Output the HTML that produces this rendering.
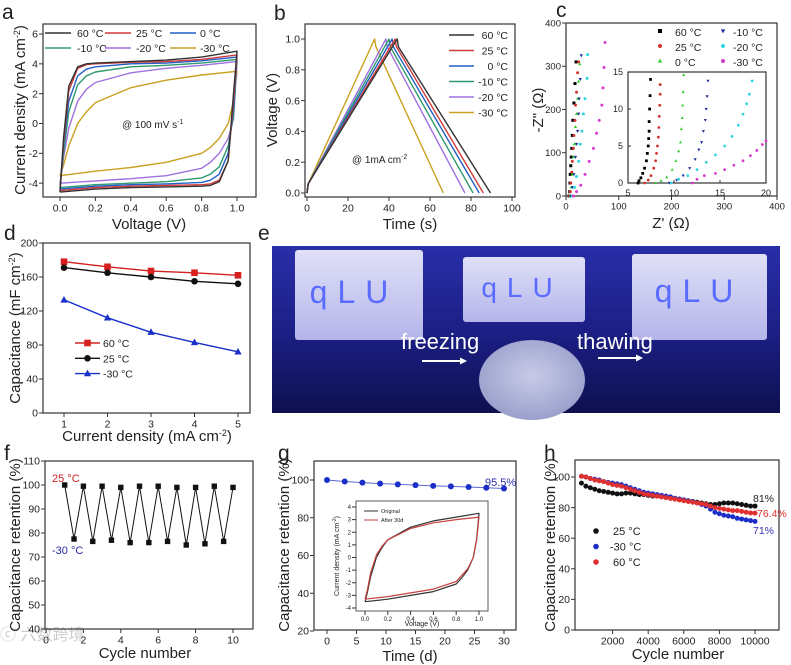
<!DOCTYPE html>
<html><head><meta charset="utf-8"><style>
html,body{margin:0;padding:0;background:#fff;}
svg{display:block;font-family:"Liberation Sans","Noto Sans CJK SC",sans-serif;}
</style></head><body>
<svg id="fig" width="791" height="665" viewBox="0 0 791 665" xmlns="http://www.w3.org/2000/svg">
<defs>
<linearGradient id="photoBg" x1="0" y1="0" x2="0" y2="1"><stop offset="0" stop-color="#2a2ea8"/><stop offset="0.5" stop-color="#1c1f86"/><stop offset="1" stop-color="#0e1050"/></linearGradient>
<linearGradient id="bag" x1="0" y1="0" x2="0" y2="1"><stop offset="0" stop-color="#e0e0f8"/><stop offset="1" stop-color="#b4b5ea"/></linearGradient>
<radialGradient id="ice" cx="0.5" cy="0.45" r="0.55"><stop offset="0" stop-color="#c8cbe8"/><stop offset="1" stop-color="#9aa0cc"/></radialGradient>
</defs>
<g>
<rect x="272" y="246" width="508" height="167" fill="url(#photoBg)"/>
<rect x="295" y="250" width="128" height="90" rx="3" fill="url(#bag)"/>
<rect x="463" y="257" width="122" height="65" rx="3" fill="url(#bag)"/>
<rect x="632" y="254" width="135" height="86" rx="3" fill="url(#bag)"/>
<ellipse cx="532" cy="380" rx="53" ry="40" fill="url(#ice)"/>
<text x="354" y="303" text-anchor="middle" fill="#5a6cff" font-size="32" letter-spacing="10">qLU</text>
<text x="522" y="297" text-anchor="middle" fill="#5a6cff" font-size="28" letter-spacing="10">qLU</text>
<text x="699" y="302" text-anchor="middle" fill="#5a6cff" font-size="32" letter-spacing="10">qLU</text>
<text x="401" y="349" fill="#fff" font-size="22">freezing</text>
<text x="577" y="349" fill="#fff" font-size="22">thawing</text>
<line x1="422" y1="361" x2="463" y2="361" stroke="#fff" stroke-width="2"/>
<polygon points="467,361 460,357.5 460,364.5" fill="#fff"/>
<line x1="598" y1="358" x2="639" y2="358" stroke="#fff" stroke-width="2"/>
<polygon points="643,358 636,354.5 636,361.5" fill="#fff"/>
</g>
<text x="0" y="640" fill="#ccc" font-size="16">ⓒ 六数跨境</text>
</svg>
<script>
// ---------- DATA ----------
const cvUpV = [0,0.02,0.05,0.1,0.15,0.2,0.4,0.6,0.8,1.0];
const cvLowV = [1.0,0.98,0.95,0.9,0.85,0.8,0.6,0.4,0.2,0];
const cvLabels = ["60 °C","25 °C","0 °C","-10 °C","-20 °C","-30 °C"];
const cvUp60 = [-4.6,-1,2.5,3.8,4.0,4.05,4.15,4.25,4.45,4.85];
const cvLow60 = [4.85,2,-2.5,-3.9,-4.15,-4.2,-4.25,-4.3,-4.4,-4.6];
const cvUp25 = [-4.5,-1.3,2.2,3.7,3.95,4.0,4.1,4.15,4.3,4.6];
const cvLow25 = [4.6,1.5,-2.5,-3.8,-4.05,-4.1,-4.15,-4.2,-4.3,-4.5];
const cvUp0 = [-4.4,-1.5,1.5,3.2,3.65,3.8,4.0,4.05,4.2,4.45];
const cvLow0 = [4.45,1,-2,-3.4,-3.8,-3.95,-4.05,-4.1,-4.2,-4.4];
const cvUpM10 = [-4.3,-2,0.8,2.6,3.2,3.45,3.8,3.9,4.05,4.3];
const cvLowM10 = [4.3,0.5,-1.5,-2.9,-3.4,-3.65,-3.9,-4.0,-4.1,-4.3];
const cvUpM20 = [-4.0,-2.3,-0.3,1.5,2.3,2.75,3.4,3.7,3.9,4.15];
const cvLowM20 = [4.15,0.3,-1,-2,-2.6,-3.0,-3.5,-3.7,-3.85,-4.0];
const cvUpM30 = [-3.5,-2.8,-1.5,0,0.8,1.4,2.4,2.9,3.25,3.5];
const cvLowM30 = [3.5,1.5,0,-1,-1.6,-2.0,-2.6,-2.95,-3.2,-3.5];
const gcdLabels = ["60 °C","25 °C","0 °C","-10 °C","-20 °C","-30 °C"];
const gcdPeak = [44,43,41.5,40,38.5,33];
const gcdEnd = [89.5,86,84,81,77,66.5];
const nyLabels = ["60 °C","25 °C","0 °C","-10 °C","-20 °C","-30 °C"];
const ny60 = [[6,0],[7,10],[7.5,30],[8,50],[9,70],[10,90],[11,110],[12,140],[13,175],[15,215],[17,260],[19,310]];
const ny25 = [[7,0],[8,10],[9,30],[11,55],[12,80],[14,110],[15,140],[17,175],[18,210],[20,240],[22,285],[24,310]];
const ny0 = [[8,0],[10,20],[12,50],[14,90],[16,120],[18,160],[20,190],[22,225],[24,265],[26,305]];
const nyM10 = [[9,0],[12,20],[15,50],[18,90],[20,120],[22,150],[24,190],[25,225],[27,270],[29,325]];
const nyM20 = [[12,0],[16,20],[20,45],[24,80],[27,120],[30,150],[33,190],[36,225],[40,272],[41,327]];
const nyM30 = [[14,0],[20,10],[28,25],[36,50],[44,80],[52,110],[58,145],[63,175],[68,210],[70,250],[72,297],[74,355]];
const in60 = [[6.1,0],[6.2,0.3],[6.4,0.7],[6.6,1.3],[6.8,2],[7.0,3],[7.1,4],[7.2,5],[7.25,6],[7.3,7],[7.3,8.3],[7.35,10],[7.4,11.8],[7.45,14]];
const in25 = [[6.8,0],[7.2,0.4],[7.5,1],[7.8,2],[8.0,3],[8.1,4],[8.2,5],[8.3,6.2],[8.35,7.5],[8.4,9],[8.45,10.5],[8.5,12],[8.5,13.3]];
const in0 = [[8.0,0],[8.6,0.3],[9.2,0.8],[9.8,1.8],[10.2,3],[10.5,4.3],[10.7,5.5],[10.8,7.3],[10.9,8.8],[10.95,10.5],[11,12.3],[11.05,14.6]];
const inM10 = [[9.5,0],[10.3,0.4],[11,1],[11.7,2],[12.3,3.2],[12.7,4.5],[13.0,5.5],[13.2,7],[13.4,8.5],[13.5,10],[13.6,11.7],[13.7,13.8]];
const inM20 = [[9.7,0],[10.5,0.5],[11.5,1],[12.5,1.8],[13.5,2.8],[14.5,3.8],[15.5,5],[16.3,6.3],[17,7.8],[17.5,9.3],[17.9,10.7],[18.2,12],[18.5,13.8]];
const inM30 = [[12,0],[12.5,0.5],[13.3,1],[14.5,1.3],[15.5,1.8],[16.5,2.4],[17.5,3],[18.3,3.7],[19,4.4],[19.6,5.2],[20,5.7]];
const rateX = [1,2,3,4,5];
const rate60 = [178,172,167,165,162];
const rate25 = [171,165,160,155,152];
const rateM30 = [133,112,95,83,72];
const cycX = [1,1.5,2,2.5,3,3.5,4,4.5,5,5.5,6,6.5,7,7.5,8,8.5,9,9.5,10];
const cycY = [100,77.5,99.5,76.5,99.5,77,99,76,99.5,76,99.5,76.5,99,75,99,75.5,99.5,76.5,99];
const storeX = [0,3,6,9,12,15,18,21,24,27,30];
const storeY = [100,99.2,98.6,98.1,97.7,97.3,96.9,96.6,96.3,95.9,95.5];
const gInUpOrig = [-3.5,-2.8,-1.5,0,0.8,1.4,2.4,2.9,3.2,3.5];
const gInLowOrig = [3.5,1.5,0,-1,-1.6,-2.1,-2.7,-3.0,-3.3,-3.5];
const gInUp30 = [-3.3,-2.6,-1.2,0.2,0.9,1.4,2.3,2.75,3.0,3.2];
const gInLow30 = [3.2,1.4,0,-0.9,-1.4,-1.9,-2.5,-2.8,-3.1,-3.3];
const longX = [250,500,750,1000,1250,1500,1750,2000,2250,2500,2750,3000,3250,3500,3750,4000,4250,4500,4750,5000,5250,5500,5750,6000,6250,6500,6750,7000,7250,7500,7750,8000,8250,8500,8750,9000,9250,9500,9750,10000];
const long25 = [96,94,93,92,91,90.5,90,89.5,89,89,89.5,89.5,89,88.5,88.5,88,87.5,87.5,87,87,86.5,86,85.5,85,84.5,84,83.5,83,82.5,82,82,82.5,83,83,83,82.5,82,81.5,81,81];
const longM30 = [100.5,100,99,98.5,98,97,96.5,96,95.5,95,94,93,92,91,90,89.5,89,88.5,88,87.5,87,86,85.5,85,84.5,84,83,82,81,79,77,76,75,74.5,74,73,72.5,72,71.5,71];
const long60 = [100.5,100,99,98,97.5,97,96,95,94.5,94,93,92,91,90,89,88.5,88,87.5,87,86.5,86,85.5,85,84.5,84,83.5,83,82.5,82,81,80,79.5,79,78.5,78,78,77.5,77,76.5,76.4];

// ---------- HELPERS ----------
const NS = "http://www.w3.org/2000/svg";
const svg = document.getElementById('fig');
function el(tag, attrs, name, parent) {
  const e = document.createElementNS(NS, tag);
  for (const k in attrs) e.setAttribute(k, attrs[k]);
  
  
  (parent || svg).appendChild(e);
  return e;
}
function txt(x, y, s, size, name, opts) {
  opts = opts || {};
  const t = el('text', {x: x, y: y, 'font-size': size, fill: opts.fill || '#222', 'text-anchor': opts.anchor || 'start'}, name);
  if (opts.rot) t.setAttribute('transform', 'rotate(-90 ' + x + ' ' + y + ')');
  t.innerHTML = s;
  return t;
}
function lin(d0, d1, p0, p1) { return v => p0 + (v - d0) * (p1 - p0) / (d1 - d0); }
function axes(o) {
  const sx = lin(o.xd[0], o.xd[1], o.xp[0], o.xp[1]);
  const sy = lin(o.yd[0], o.yd[1], o.yp[0], o.yp[1]);
  const fs = o.fs || 10.5;
  el('rect', {x: o.box[0], y: o.box[1], width: o.box[2] - o.box[0], height: o.box[3] - o.box[1], fill: 'none', stroke: '#333', 'stroke-width': o.sw || 1.2}, o.name + '-frame');
  o.xt.forEach((v, i) => {
    const x = sx(v);
    el('line', {x1: x, x2: x, y1: o.box[3], y2: o.box[3] + (o.tin ? -3 : 4), stroke: '#333'}, o.name + '-x-tick');
    if (o.xl[i] !== '') txt(x, o.box[3] + fs + 4, o.xl[i], fs, o.name + '-x-tick-label', {anchor: 'middle'});
  });
  o.yt.forEach((v, i) => {
    const y = sy(v);
    el('line', {x1: o.box[0], x2: o.box[0] + (o.tin ? 3 : -4), y1: y, y2: y, stroke: '#333'}, o.name + '-y-tick');
    txt(o.box[0] - 5, y + fs * 0.35, o.yl[i], fs, o.name + '-y-tick-label', {anchor: 'end'});
  });
  return {sx, sy};
}
function poly(pts, color, name, w) {
  return el('polyline', {points: pts.map(p => p[0].toFixed(1) + ',' + p[1].toFixed(1)).join(' '), fill: 'none', stroke: color, 'stroke-width': w || 1.4, 'stroke-linejoin': 'round'}, name);
}
function marker(shape, x, y, r, color, name) {
  if (shape === 'sq') return el('rect', {x: x - r, y: y - r, width: 2 * r, height: 2 * r, fill: color}, name);
  if (shape === 'tu') return el('polygon', {points: `${x},${y - r * 1.2} ${x - r * 1.1},${y + r * 0.8} ${x + r * 1.1},${y + r * 0.8}`, fill: color}, name);
  if (shape === 'td') return el('polygon', {points: `${x},${y + r * 1.2} ${x - r * 1.1},${y - r * 0.8} ${x + r * 1.1},${y - r * 0.8}`, fill: color}, name);
  return el('circle', {cx: x, cy: y, r: r, fill: color}, name);
}
const tempColors = ['#333333', '#d33a3a', '#2260c8', '#2e9a6e', '#a070e0', '#c9a020'];

[['a', 2, 19], ['b', 274, 20], ['c', 556, 17], ['d', 4, 240], ['e', 258, 240], ['f', 4, 460], ['g', 278, 460], ['h', 544, 460]].forEach(p => {
  txt(p[1], p[2], p[0], 21, 'panel-label-' + p[0]);
});

// ---------- A ----------
(function () {
  const A = axes({name: 'a', box: [43, 24, 256, 197], xd: [0, 1], xp: [60, 237], yd: [0, 6], yp: [123.5, 34],
    xt: [0, 0.2, 0.4, 0.6, 0.8, 1.0], xl: ['0.0', '0.2', '0.4', '0.6', '0.8', '1.0'], yt: [-4, -2, 0, 2, 4, 6], yl: ['-4', '-2', '0', '2', '4', '6']});
  const ups = [cvUp60, cvUp25, cvUp0, cvUpM10, cvUpM20, cvUpM30];
  const lows = [cvLow60, cvLow25, cvLow0, cvLowM10, cvLowM20, cvLowM30];
  for (let i = 5; i >= 0; i--) {
    const pts = cvUpV.map((v, j) => [A.sx(v), A.sy(ups[i][j])]).concat(cvLowV.map((v, j) => [A.sx(v), A.sy(lows[i][j])]));
    poly(pts, tempColors[i], 'cv-curve-' + i);
  }
  const lx = [45, 105, 170], tx = [77, 136, 200];
  cvLabels.forEach((l, i) => {
    const r = Math.floor(i / 3), c = i % 3, y = 33 + r * 15;
    el('line', {x1: lx[c], x2: lx[c] + 26, y1: y, y2: y, stroke: tempColors[i], 'stroke-width': 1.5}, 'legend-line-a');
    txt(tx[c], y + 4, l, 10.5, 'legend-label-a');
  });
  txt(122, 128, '@ 100 mV s<tspan font-size="7" dy="-4">-1</tspan>', 10, 'scan-rate-note');
  txt(149, 229, 'Voltage (V)', 15, 'x-axis-title-a', {anchor: 'middle'});
  txt(25, 110, 'Current density (mA cm<tspan font-size="9" dy="-5">-2</tspan><tspan dy="5">)</tspan>', 15, 'y-axis-title-a', {anchor: 'middle', rot: true});
})();

// ---------- B ----------
(function () {
  const B = axes({name: 'b', box: [305, 24, 515, 197], xd: [0, 100], xp: [307, 512], yd: [0, 1], yp: [193, 39],
    xt: [0, 20, 40, 60, 80, 100], xl: ['0', '20', '40', '60', '80', '100'], yt: [0, 0.2, 0.4, 0.6, 0.8, 1.0], yl: ['0.0', '0.2', '0.4', '0.6', '0.8', '1.0']});
  for (let i = 5; i >= 0; i--) {
    const pts = [[0, 0], [0.6, 0.06], [gcdPeak[i], 1], [gcdPeak[i] + 0.6, 0.95], [gcdEnd[i], 0]].map(p => [B.sx(p[0]), B.sy(p[1])]);
    poly(pts, tempColors[i], 'gcd-curve-' + i);
  }
  gcdLabels.forEach((l, i) => {
    const y = 35 + i * 15.5;
    el('line', {x1: 449, x2: 474, y1: y, y2: y, stroke: tempColors[i], 'stroke-width': 1.5}, 'legend-line-b');
    txt(508, y + 4, l, 10.5, 'legend-label-b', {anchor: 'end'});
  });
  txt(352, 163, '@ 1mA cm<tspan font-size="7" dy="-4">-2</tspan>', 10, 'current-density-note');
  txt(410, 229, 'Time (s)', 15, 'x-axis-title-b', {anchor: 'middle'});
  txt(277, 110, 'Voltage (V)', 15, 'y-axis-title-b', {anchor: 'middle', rot: true});
})();

// ---------- C ----------
(function () {
  const C = axes({name: 'c', box: [566, 23, 777, 196], xd: [0, 400], xp: [566, 777], yd: [0, 400], yp: [196, 23],
    xt: [0, 100, 200, 300, 400], xl: ['0', '100', '200', '300', '400'], yt: [0, 100, 200, 300, 400], yl: ['0', '100', '200', '300', '400'], fs: 9.5});
  const cols = ['#000', '#d0342c', '#33cc33', '#1a2a9a', '#2fd6e0', '#d93bd0'];
  const shapes = ['sq', 'c', 'tu', 'td', 'c', 'c'];
  const main = [ny60, ny25, ny0, nyM10, nyM20, nyM30];
  main.forEach((s, i) => s.forEach(p => marker(shapes[i], C.sx(p[0]), C.sy(p[1]), 1.5, cols[i], 'nyquist-point-' + i)));
  const I = axes({name: 'c-inset', box: [628, 72, 766, 183], xd: [5, 20], xp: [628, 766], yd: [0, 15], yp: [183, 72],
    xt: [5, 10, 15, 20], xl: ['5', '10', '15', '20'], yt: [0, 5, 10, 15], yl: ['0', '5', '10', '15'], fs: 9, tin: true});
  const ins = [in60, in25, in0, inM10, inM20, inM30];
  ins.forEach((s, i) => s.forEach(p => marker(shapes[i], I.sx(p[0]), I.sy(p[1]), 1.4, cols[i], 'inset-nyquist-point-' + i)));
  nyLabels.forEach((l, i) => {
    const c = Math.floor(i / 3), r = i % 3, y = 32 + r * 15;
    marker(shapes[i], c ? 723 : 660, y - 1, 2, cols[i], 'legend-marker-c');
    txt(c ? 733 : 675, y + 4, l, 10.5, 'legend-label-c');
  });
  txt(671, 228, "Z' (Ω)", 15, 'x-axis-title-c', {anchor: 'middle'});
  txt(543, 110, '-Z" (Ω)', 15, 'y-axis-title-c', {anchor: 'middle', rot: true});
})();

// ---------- D ----------
(function () {
  const D = axes({name: 'd', box: [43, 243, 250, 413], xd: [1, 5], xp: [64, 238], yd: [0, 200], yp: [413, 243],
    xt: [1, 2, 3, 4, 5], xl: ['1', '2', '3', '4', '5'], yt: [0, 40, 80, 120, 160, 200], yl: ['0', '40', '80', '120', '160', '200']});
  const series = [[rate60, '#d62020', 'sq'], [rate25, '#111', 'c'], [rateM30, '#1a30c8', 'tu']];
  series.forEach((s, k) => {
    poly(rateX.map((x, i) => [D.sx(x), D.sy(s[0][i])]), s[1], 'rate-line-' + k);
    rateX.forEach((x, i) => marker(s[2], D.sx(x), D.sy(s[0][i]), 3.3, s[1], 'rate-point-' + k));
  });
  const labs = ['60 °C', '25 °C', '-30 °C'];
  series.forEach((s, k) => {
    const y = 343 + k * 15.3;
    el('line', {x1: 75, x2: 100, y1: y, y2: y, stroke: s[1], 'stroke-width': 1.4}, 'legend-line-d');
    marker(s[2], 87.5, y, 3.3, s[1], 'legend-marker-d');
    txt(103, y + 4, labs[k], 10.5, 'legend-label-d');
  });
  txt(147, 441, 'Current density (mA cm<tspan font-size="9" dy="-5">-2</tspan><tspan dy="5">)</tspan>', 15, 'x-axis-title-d', {anchor: 'middle'});
  txt(20, 328, 'Capacitance (mF cm<tspan font-size="9" dy="-5">-2</tspan><tspan dy="5">)</tspan>', 15, 'y-axis-title-d', {anchor: 'middle', rot: true});
})();

// ---------- F ----------
(function () {
  const F = axes({name: 'f', box: [45, 461, 253, 629], xd: [0, 10], xp: [46, 233], yd: [40, 110], yp: [629, 461],
    xt: [0, 2, 4, 6, 8, 10], xl: ['0', '2', '4', '6', '8', '10'], yt: [40, 50, 60, 70, 80, 90, 100, 110], yl: ['40', '50', '60', '70', '80', '90', '100', '110']});
  poly(cycX.map((x, i) => [F.sx(x), F.sy(cycY[i])]), '#111', 'cycle-line', 1);
  cycX.forEach((x, i) => marker('sq', F.sx(x), F.sy(cycY[i]), 2.7, '#111', 'cycle-point'));
  txt(52, 482, '25 °C', 11, 'label-25c', {fill: '#d02020'});
  txt(52, 554, '-30 °C', 11, 'label-minus30c', {fill: '#2a2aa8'});
  txt(145, 658, 'Cycle number', 15, 'x-axis-title-f', {anchor: 'middle'});
  txt(20, 545, 'Capacitance retention (%)', 15, 'y-axis-title-f', {anchor: 'middle', rot: true});
})();

// ---------- G ----------
(function () {
  const G = axes({name: 'g', box: [314, 461, 516, 630], xd: [0, 30], xp: [327, 504], yd: [20, 100], yp: [631, 480],
    xt: [0, 5, 10, 15, 20, 25, 30], xl: ['0', '5', '10', '15', '20', '25', '30'], yt: [20, 40, 60, 80, 100], yl: ['20', '40', '60', '80', '100']});
  poly(storeX.map((x, i) => [G.sx(x), G.sy(storeY[i])]), '#5a6ad0', 'storage-line', 1);
  storeX.forEach((x, i) => marker('c', G.sx(x), G.sy(storeY[i]), 3, '#1c2ec8', 'storage-point'));
  txt(485, 486, '95.5%', 11, 'retention-95-label', {fill: '#3030b0'});
  const I = axes({name: 'g-inset', box: [356, 501, 488, 611], xd: [0, 1], xp: [365, 479], yd: [-4, 4], yp: [608, 507],
    xt: [0, 0.2, 0.4, 0.6, 0.8, 1.0], xl: ['0.0', '0.2', '0.4', '0.6', '0.8', '1.0'], yt: [-4, -3, -2, -1, 0, 1, 2, 3, 4], yl: ['-4', '-3', '-2', '-1', '0', '1', '2', '3', '4'], fs: 6, sw: 0.8});
  const pairs = [[gInUpOrig, gInLowOrig, '#333'], [gInUp30, gInLow30, '#c84040']];
  pairs.forEach((p, k) => {
    const pts = cvUpV.map((v, j) => [I.sx(v), I.sy(p[0][j])]).concat(cvLowV.map((v, j) => [I.sx(v), I.sy(p[1][j])]));
    poly(pts, p[2], 'inset-cv-' + k, 1.2);
  });
  el('line', {x1: 364, x2: 378, y1: 511, y2: 511, stroke: '#333'}, 'inset-legend-line');
  txt(381, 513, 'Original', 5.5, 'inset-legend-label');
  el('line', {x1: 364, x2: 378, y1: 520, y2: 520, stroke: '#c84040'}, 'inset-legend-line');
  txt(381, 522, 'After 30d', 5.5, 'inset-legend-label');
  txt(422, 626, 'Voltage (V)', 7, 'inset-x-axis-title', {anchor: 'middle'});
  txt(339, 556, 'Current density (mA cm<tspan font-size="5" dy="-3">-2</tspan><tspan dy="3">)</tspan>', 7, 'inset-y-axis-title', {anchor: 'middle', rot: true});
  txt(410, 661, 'Time (d)', 15, 'x-axis-title-g', {anchor: 'middle'});
  txt(289, 545, 'Capacitance retention (%)', 15, 'y-axis-title-g', {anchor: 'middle', rot: true});
})();

// ---------- H ----------
(function () {
  const H = axes({name: 'h', box: [575, 460, 779, 630], xd: [0, 10000], xp: [577, 755], yd: [0, 100], yp: [630, 477],
    xt: [2000, 4000, 6000, 8000, 10000], xl: ['2000', '4000', '6000', '8000', '10000'], yt: [0, 20, 40, 60, 80, 100], yl: ['0', '20', '40', '60', '80', '100']});
  const series = [[long25, '#111'], [longM30, '#1c2ec8'], [long60, '#e03030']];
  series.forEach((s, k) => longX.forEach((x, i) => marker('c', H.sx(x), H.sy(s[0][i]), 2.5, s[1], 'long-cycle-point-' + k)));
  txt(753, 502, '81%', 10.5, 'retention-81-label');
  txt(757, 517, '76.4%', 10.5, 'retention-76-label', {fill: '#e03030'});
  txt(753, 534, '71%', 10.5, 'retention-71-label', {fill: '#3030b0'});
  const labs = ['25 °C', '-30 °C', '60 °C'];
  series.forEach((s, k) => {
    const y = 531 + k * 15.5;
    marker('c', 596, y, 2.8, s[1], 'legend-marker-h');
    txt(k === 1 ? 610 : 613, y + 4, labs[k], 11, 'legend-label-h');
  });
  txt(678, 659, 'Cycle number', 15, 'x-axis-title-h', {anchor: 'middle'});
  txt(555, 545, 'Capacitance retention (%)', 15, 'y-axis-title-h', {anchor: 'middle', rot: true});
})();
</script>
</body></html>
